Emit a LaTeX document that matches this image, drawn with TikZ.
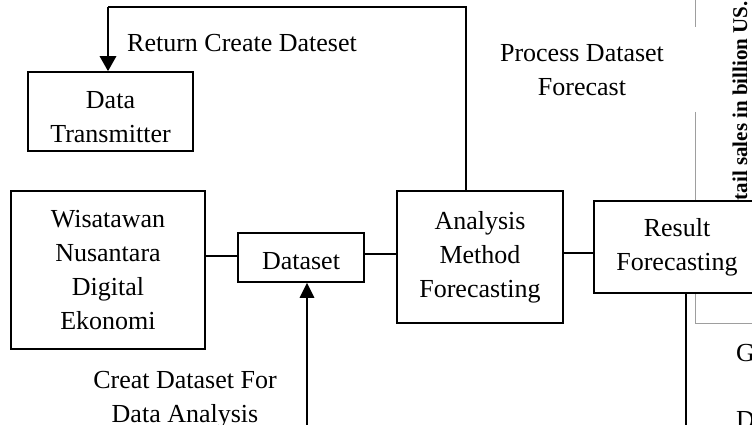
\documentclass[tikz,border=0pt]{standalone}
\usepackage{fontspec}
\setmainfont{Liberation Serif}
\usetikzlibrary{arrows.meta}
\tikzset{
  txt/.style={font=\fontsize{26}{34}\selectfont},
  box/.style={txt, draw, line width=1.5pt, fill=white, align=center, inner sep=0pt},
  lbl/.style={txt, align=center, inner sep=0pt},
  conn/.style={line width=1.5pt},
  fb/.style={line width=2pt},
  bigarrow/.style={line width=2.8pt, -{Triangle[length=15pt,width=16pt]}},
  bleed/.style={draw=black!38, line width=1pt}
}
\begin{document}
\begin{tikzpicture}[x=1pt,y=-1pt]
\useasboundingbox (0,0) rectangle (752,425);
\clip (0,0) rectangle (752,425);
% background bleed of another figure
\draw[bleed] (695,0) -- (695,27);
\draw[bleed] (695,112) -- (695,323) -- (760,323);
\node[rotate=90, anchor=base east, inner sep=0pt, font=\bfseries\fontsize{21}{21}\selectfont] (axis) at (747,1) {etail sales in billion US.};
\node[txt, anchor=west, inner sep=0pt] (g) at (736,353) {G};
\node[txt, anchor=west, inner sep=0pt] (d) at (736,420) {D};
% boxes
\node[box, minimum width=165pt, minimum height=79pt] (trans) at (110.5,111.5) {\raisebox{-13.5pt}[0pt][0pt]{\begin{tabular}{@{}c@{}}Data\\Transmitter\end{tabular}}};
\node[box, minimum width=194pt, minimum height=158pt] (wis) at (108,270) {Wisatawan\\Nusantara\\Digital\\Ekonomi};
\node[box, minimum width=126pt, minimum height=49pt] (ds) at (301,257.5) {\raisebox{-12pt}[0pt][0pt]{Dataset}};
\node[box, minimum width=166pt, minimum height=132pt] (ana) at (480,257) {Analysis\\Method\\Forecasting};
\node[box, minimum width=166pt, minimum height=92pt] (res) at (677,247) {Result\\Forecasting};
% labels
\node[lbl] (l1) at (242,43) {Return Create Dateset};
\node[lbl] (l2) at (582,70) {Process Dataset\\Forecast};
\node[lbl] (l3) at (185,400) {Creat Dataset For\\Data Analysis};
% connectors
\coordinate (j0) at (0,256);
\coordinate (j1) at (0,254);
\coordinate (j2) at (0,253);
\draw[conn] (wis.east |- j0) -- (ds.west |- j0);
\draw[conn] (ds.east |- j1) -- (ana.west |- j1);
\draw[conn] (ana.east |- j2) -- (res.west |- j2);
\coordinate (tr) at (466,7);
\coordinate (tl) at (108,7);
\draw[fb] (tr |- ana.north) -- (tr) -- (tl);
\draw[bigarrow] (tl) -- (tl |- trans.north);
\coordinate (b1) at (307,430);
\draw[bigarrow, -{Triangle[length=15pt,width=14pt]}] (b1) -- (b1 |- ds.south);
\coordinate (b2) at (686,430);
\draw[fb] (b2 |- res.south) -- (b2);
\end{tikzpicture}
\end{document}
